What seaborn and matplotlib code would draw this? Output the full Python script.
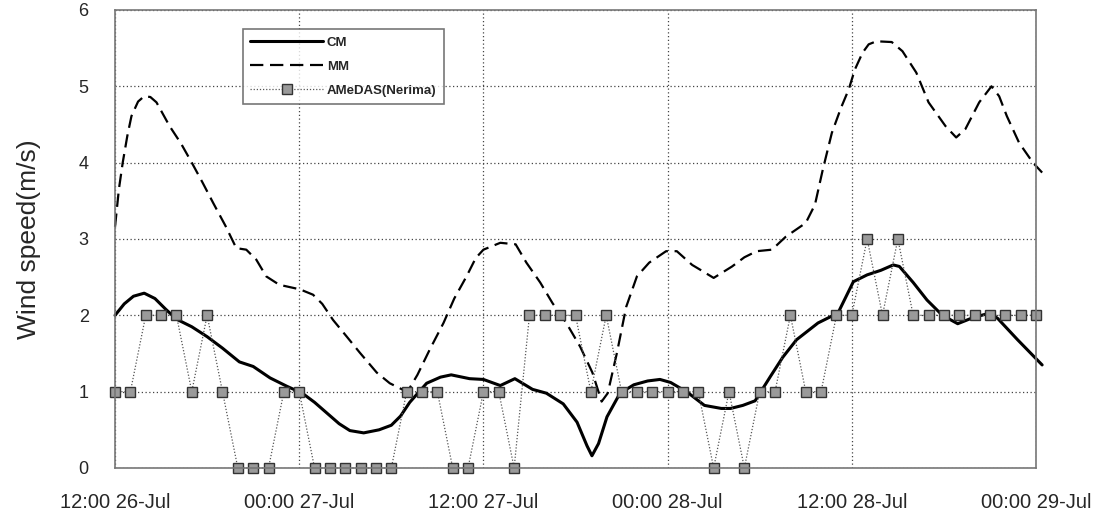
import numpy as np
import pandas as pd
import matplotlib
matplotlib.use("Agg")
import matplotlib.pyplot as plt
import seaborn as sns

# Hours elapsed since 12:00 26-Jul
tick_hours = [0, 12, 24, 36, 48, 60]
tick_labels = ["12:00 26-Jul", "00:00 27-Jul", "12:00 27-Jul",
               "00:00 28-Jul", "12:00 28-Jul", "00:00 29-Jul"]

# AMeDAS (Nerima) hourly observations
amedas_hours = list(range(61))
amedas_speed = [1, 1, 2, 2, 2, 1, 2, 1, 0, 0, 0, 1, 1, 0, 0, 0, 0, 0, 0, 1,
                1, 1, 0, 0, 1, 1, 0, 2, 2, 2, 2, 1, 2, 1, 1, 1, 1, 1, 1, 0,
                1, 0, 1, 1, 2, 1, 1, 2, 2, 3, 2, 3, 2, 2, 2, 2, 2, 2, 2, 2, 2]

# CM model output
cm_hours = [0.0, 0.6, 1.2, 1.9, 2.6, 3.3, 4.0, 5.0, 6.0, 7.0, 8.1, 9.0, 10.1,
            11.2, 12.2, 13.0, 13.8, 14.6, 15.3, 16.2, 17.2, 18.0, 18.6, 19.2,
            20.3, 21.2, 21.9, 23.1, 24.0, 25.1, 26.05, 27.2, 28.1, 29.2, 30.1,
            30.75, 31.07, 31.5, 32.05, 32.9, 33.8, 34.7, 35.5, 36.2, 37.3,
            38.4, 39.5, 40.1, 40.9, 41.7, 42.7, 43.5, 44.4, 45.8, 47.1, 48.1,
            49.0, 49.9, 50.7, 51.1, 52.0, 52.9, 53.9, 54.9, 55.9, 57.0, 57.5,
            58.8, 60.4]
cm_speed = [2.0, 2.15, 2.25, 2.29, 2.22, 2.08, 1.95, 1.85, 1.72, 1.57, 1.39,
            1.33, 1.18, 1.07, 0.98, 0.86, 0.72, 0.58, 0.49, 0.46, 0.50, 0.56,
            0.68, 0.86, 1.11, 1.19, 1.22, 1.17, 1.16, 1.08, 1.17, 1.03, 0.98,
            0.84, 0.60, 0.29, 0.16, 0.32, 0.67, 0.98, 1.09, 1.14, 1.16, 1.12,
            0.99, 0.82, 0.78, 0.78, 0.82, 0.88, 1.20, 1.45, 1.68, 1.90, 2.03,
            2.44, 2.53, 2.59, 2.66, 2.64, 2.43, 2.20, 2.00, 1.89, 1.97, 2.03,
            1.96, 1.68, 1.35]

# MM model output
mm_hours = [0.0, 0.25, 0.5, 0.8, 1.07, 1.5, 1.9, 2.3, 2.7, 3.55, 4.3, 5.0,
            5.7, 6.4, 7.2, 7.9, 8.55, 9.2, 9.85, 10.7, 12.05, 12.9, 13.5,
            14.2, 15.1, 15.95, 17.05, 17.9, 18.8, 19.2, 19.7, 20.5, 21.4, 22.1,
            22.9, 23.5, 24.0, 25.1, 26.1, 26.8, 27.7, 28.5, 29.4, 30.3, 31.1,
            31.7, 32.1, 32.7, 33.3, 34.0, 34.8, 35.9, 36.6, 37.6, 38.1, 39.0,
            40.2, 41.0, 41.8, 42.8, 43.7, 45.0, 45.6, 46.1, 46.7, 47.3, 47.8,
            48.2, 48.7, 49.1, 49.6, 50.6, 51.3, 52.2, 53.0, 54.1, 54.8, 55.4,
            56.3, 57.1, 57.6, 58.1, 58.9, 59.8, 60.4]
mm_speed = [3.16, 3.65, 4.0, 4.35, 4.61, 4.8, 4.87, 4.86, 4.79, 4.48, 4.25,
            4.0, 3.74, 3.47, 3.17, 2.88, 2.86, 2.73, 2.51, 2.40, 2.34, 2.27,
            2.15, 1.94, 1.72, 1.51, 1.25, 1.11, 1.02, 1.05, 1.22, 1.55, 1.90,
            2.22, 2.51, 2.75, 2.86, 2.95, 2.93, 2.69, 2.43, 2.16, 1.90, 1.59,
            1.25, 0.87, 0.98, 1.51, 2.11, 2.51, 2.69, 2.84, 2.84, 2.66, 2.60,
            2.49, 2.64, 2.76, 2.84, 2.86, 3.03, 3.21, 3.45, 3.90, 4.39, 4.72,
            4.96, 5.22, 5.44, 5.55, 5.59, 5.58, 5.46, 5.18, 4.79, 4.48, 4.33,
            4.44, 4.79, 5.0, 4.87, 4.61, 4.26, 4.0, 3.87]

amedas = pd.DataFrame({"hour": amedas_hours, "speed": amedas_speed})
cm = pd.DataFrame({"hour": cm_hours, "speed": cm_speed})
mm = pd.DataFrame({"hour": mm_hours, "speed": mm_speed})

sns.set_style("white")
plt.rcParams["font.family"] = ["Liberation Sans", "DejaVu Sans"]

fig = plt.figure(figsize=(11.04, 5.17), dpi=100)
ax = fig.add_axes([0.1042, 0.0948, 0.8342, 0.8859])

sns.lineplot(data=cm, x="hour", y="speed", ax=ax, color="black",
             linewidth=2.2, label="CM", sort=False)
sns.lineplot(data=mm, x="hour", y="speed", ax=ax, color="black",
             linewidth=1.6, label="MM", sort=False)
ax.lines[-1].set_dashes([6, 3])
sns.lineplot(data=amedas, x="hour", y="speed", ax=ax, color="#555555",
             linewidth=0.9, linestyle=(0, (1, 1.5)), marker="s",
             markersize=7, markerfacecolor="#9a9a9a",
             markeredgecolor="#333333", markeredgewidth=1.0,
             label="AMeDAS(Nerima)", sort=False)

for ln in ax.lines:
    ln.set_clip_on(False)

ax.set_xlim(0, 60)
ax.set_ylim(0, 6)
ax.set_xticks(tick_hours)
ax.set_xticklabels(tick_labels, fontsize=14.5)
ax.set_yticks(range(7))
ax.set_yticklabels([str(v) for v in range(7)], fontsize=13)
ax.tick_params(length=0, pad=19)
ax.tick_params(axis="x", pad=18)
ax.set_xlabel("")
ax.set_ylabel("Wind speed(m/s)", fontsize=19, labelpad=27)

ax.grid(True, color="#444444", linestyle=(0, (1, 2)), linewidth=0.9)
for sp in ax.spines.values():
    sp.set_color("#777777")
    sp.set_linewidth(1.2)

leg = ax.legend(loc="upper left", bbox_to_anchor=(0.139, 0.958),
                borderaxespad=0, fontsize=9.5, handlelength=5.5,
                frameon=True, fancybox=False, borderpad=0.55,
                labelspacing=0.9, handletextpad=0.3)
leg.get_frame().set_edgecolor("#555555")
leg.get_frame().set_linewidth(1.2)
for t in leg.get_texts():
    t.set_fontweight("bold")

fig.savefig("out.png", dpi=100)
